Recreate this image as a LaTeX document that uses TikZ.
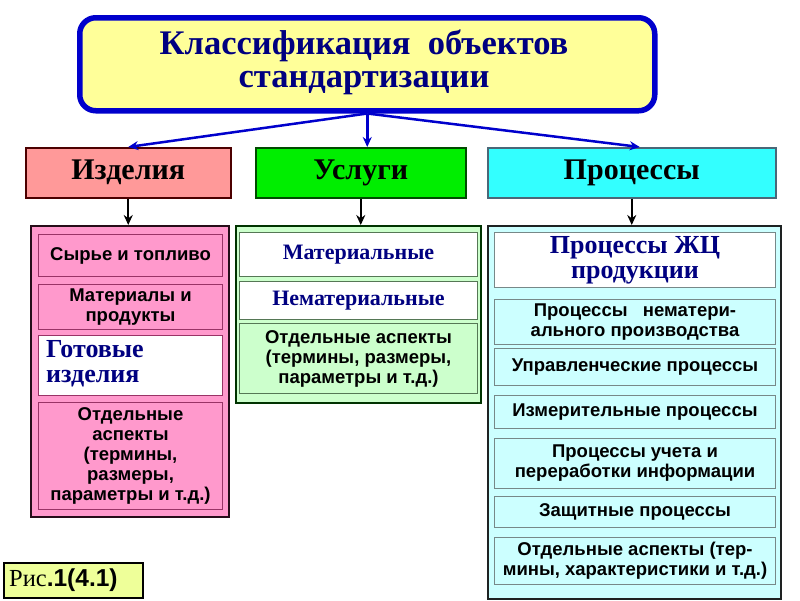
\documentclass[tikz,border=0pt]{standalone}
\usepackage{fontspec}
\setmainfont{Liberation Serif}
\setsansfont{Liberation Sans}
\usetikzlibrary{arrows.meta}
\definecolor{tyellow}{HTML}{FFFF99}
\definecolor{tblue}{HTML}{0000CC}
\definecolor{navy}{HTML}{000080}
\definecolor{salmon}{HTML}{FF9999}
\definecolor{brgreen}{HTML}{00EE00}
\definecolor{cyanb}{HTML}{33FFFF}
\definecolor{pinkb}{HTML}{FF99CC}
\definecolor{pinkd}{HTML}{993366}
\definecolor{lgreen}{HTML}{CCFFCC}
\definecolor{greend}{HTML}{557755}
\definecolor{lcyan}{HTML}{CCFFFF}
\definecolor{cyand}{HTML}{778888}
\definecolor{risfill}{HTML}{EEFF99}
\tikzset{
  box/.style={anchor=north west, inner sep=0pt, align=center},
  titlebox/.style={box, draw=tblue, line width=5.5pt, rounded corners=16pt, fill=tyellow},
  catbox/.style={box, line width=1.5pt, font=\bfseries\fontsize{30}{30}\selectfont},
  outerbox/.style={box, line width=1.5pt},
  item/.style={box, line width=1pt, font=\fontsize{18.5}{20}\selectfont\sffamily\bfseries},
  seritem/.style={box, line width=1pt, fill=white, text=navy, font=\bfseries\fontsize{22}{22}\selectfont},
  bluearr/.style={draw=tblue, line width=2.5pt, -{Stealth[length=10pt,width=9pt]}},
  blackarr/.style={draw=black, line width=2pt, -{Stealth[length=10pt,width=9pt]}}
}
\begin{document}
\begin{tikzpicture}[x=1pt,y=-1pt]
\useasboundingbox (0,0) rectangle (800,600);
% title
\node[titlebox, minimum width=575, minimum height=93] (T) at (77,15) {};
\node[inner sep=0pt, align=center, text=navy, font=\bfseries\fontsize{34.5}{33}\selectfont] (Tt) at (364,62)
  {Классификация\ \ объектов\\стандартизации};
% categories
\node[catbox, draw=black!70!red, fill=salmon, minimum width=205, minimum height=50] (I) at (25,147) {Изделия};
\node[catbox, draw=black!70!green, fill=brgreen, minimum width=210, minimum height=50] (U) at (255,147) {Услуги};
\node[catbox, draw=black!60!cyan, fill=cyanb, minimum width=288, minimum height=50] (P) at (487,147) {Процессы};
% outer boxes
\node[outerbox, draw=black!75!pinkd, fill=pinkb, minimum width=198, minimum height=291] (L) at (30,225) {};
\node[outerbox, draw=black!80!green, fill=lgreen, minimum width=245, minimum height=177] (M) at (235,225) {};
\node[outerbox, draw=black!75!cyand, fill=lcyan, minimum width=293, minimum height=373] (R) at (487,225) {};
% left items
\node[item, draw=pinkd, fill=pinkb, minimum width=184, minimum height=42] (L1) at (38,234) {Сырье и топливо};
\node[item, draw=pinkd, fill=pinkb, minimum width=184, minimum height=45] (L2) at (38,284) {Материалы и\\продукты};
\node[box, line width=1pt, draw=pinkd, fill=white, minimum width=184, minimum height=60] (L3) at (38,335) {};
\node[anchor=west, inner sep=0pt, align=left, text=navy, font=\bfseries\fontsize{26}{25}\selectfont] (L3t) at (46,364) {Готовые\\изделия};
\node[item, draw=pinkd, fill=pinkb, minimum width=184, minimum height=107] (L4) at (38,402)
  {Отдельные\\аспекты\\(термины,\\размеры,\\параметры и т.д.)};
% middle items
\node[seritem, draw=greend, minimum width=238, minimum height=44] (M1) at (239,232) {Материальные};
\node[seritem, draw=greend, minimum width=238, minimum height=38] (M2) at (239,281) {Нематериальные};
\node[item, draw=greend, fill=lgreen, minimum width=238, minimum height=70] (M3) at (239,323)
  {Отдельные аспекты\\(термины, размеры,\\параметры и т.д.)};
% right items
\node[seritem, draw=cyand, minimum width=281, minimum height=55, font=\bfseries\fontsize{26}{25}\selectfont] (R1) at (494,232) {Процессы ЖЦ\\продукции};
\node[item, draw=cyand, fill=lcyan, minimum width=281, minimum height=45] (R2) at (494,299) {Процессы \ \ нематери-\\ального производства};
\node[item, draw=cyand, fill=lcyan, minimum width=281, minimum height=37] (R3) at (494,348) {Управленческие процессы};
\node[item, draw=cyand, fill=lcyan, minimum width=281, minimum height=33] (R4) at (494,395) {Измерительные процессы};
\node[item, draw=cyand, fill=lcyan, minimum width=281, minimum height=50] (R5) at (494,438) {Процессы учета и\\переработки информации};
\node[item, draw=cyand, fill=lcyan, minimum width=281, minimum height=31] (R6) at (494,496) {Защитные процессы};
\node[item, draw=cyand, fill=lcyan, minimum width=281, minimum height=47] (R7) at (494,537) {Отдельные аспекты (тер-\\мины, характеристики и т.д.)};
% figure label
\node[box, draw=black, line width=2pt, fill=risfill, minimum width=139, minimum height=35] (F) at (3,562) {};
\node[anchor=west, inner sep=0pt, font=\fontsize{24.5}{24}\selectfont] (Ft) at (9,580) {Рис{\sffamily\bfseries .1(4.1)}};
% arrows
\draw[bluearr] (T.south) -- (I.north);
\draw[bluearr] (T.south) -- (T.south |- U.north);
\draw[bluearr] (T.south) -- ([xshift=8pt]P.north);
\draw[blackarr] (I.south) -- (I.south |- L.north);
\draw[blackarr] (U.south) -- (U.south |- M.north);
\draw[blackarr] (P.south) -- (P.south |- R.north);
\end{tikzpicture}
\end{document}
